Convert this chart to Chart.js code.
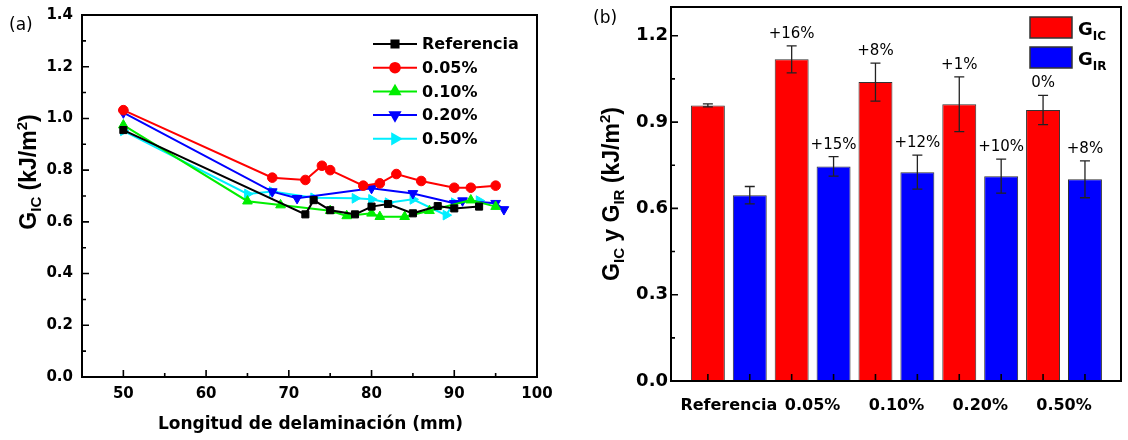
<!DOCTYPE html>
<html><head><meta charset="utf-8">
<script src="https://cdn.jsdelivr.net/npm/chart.js@4.4.0/dist/chart.umd.min.js"></script>
<style>
html,body{margin:0;padding:0;background:#fff;}
#wrap{position:relative;width:1128px;height:440px;overflow:hidden;}
#ca{position:absolute;left:0;top:0;}
#cb{position:absolute;left:560px;top:0;}
</style></head><body>
<div id="wrap"><canvas id="ca" width="560" height="440"></canvas><canvas id="cb" width="568" height="440"></canvas></div>
<script>
// ---------- Panel (a) data ----------
const seriesNames = ['Referencia', '0.05%', '0.10%', '0.20%', '0.50%'];
const refX = [50, 72, 73, 75, 78, 80, 82, 85, 88, 90, 93];
const refY = [0.955, 0.629, 0.684, 0.645, 0.629, 0.659, 0.669, 0.633, 0.661, 0.652, 0.659];
const p005X = [50, 68, 72, 74, 75, 79, 81, 83, 86, 90, 92, 95];
const p005Y = [1.032, 0.771, 0.762, 0.817, 0.800, 0.740, 0.749, 0.785, 0.758, 0.732, 0.732, 0.740];
const p010X = [50, 65, 69, 75, 77, 80, 81, 84, 87, 92, 95];
const p010Y = [0.974, 0.680, 0.665, 0.643, 0.623, 0.633, 0.620, 0.620, 0.643, 0.684, 0.659];
const p020X = [50, 68, 71, 80, 85, 90, 91, 95, 96];
const p020Y = [1.022, 0.717, 0.691, 0.730, 0.710, 0.672, 0.682, 0.672, 0.648];
const p050X = [50, 65, 68, 73, 78, 80, 82, 85, 89, 90, 93];
const p050Y = [0.952, 0.708, 0.717, 0.693, 0.691, 0.687, 0.674, 0.687, 0.626, 0.674, 0.682];
const xTicksA = [50, 60, 70, 80, 90, 100];
const yTicksA = [0.0, 0.2, 0.4, 0.6, 0.8, 1.0, 1.2, 1.4];

// ---------- Panel (b) data ----------
const groups = ['Referencia', '0.05%', '0.10%', '0.20%', '0.50%'];
const gic = [0.958, 1.118, 1.039, 0.962, 0.942];
const gicErr = [0.005, 0.047, 0.066, 0.095, 0.051];
const gicPct = ['', '+16%', '+8%', '+1%', '0%'];
const gir = [0.646, 0.746, 0.726, 0.712, 0.701];
const girErr = [0.030, 0.034, 0.059, 0.059, 0.064];
const girPct = ['', '+15%', '+12%', '+10%', '+8%'];
const yTicksB = [0.0, 0.3, 0.6, 0.9, 1.2];

Chart.defaults.font.family = "'DejaVu Sans', sans-serif";
Chart.defaults.color = '#000';

const styleA = [
  {color: '#000000', ps: 'rect', rot: 0, r: 5},
  {color: '#ff0000', ps: 'circle', rot: 0, r: 4.8},
  {color: '#00ee00', ps: 'triangle', rot: 0, r: 5.6},
  {color: '#0000ff', ps: 'triangle', rot: 180, r: 5.6},
  {color: '#00eeff', ps: 'triangle', rot: 90, r: 5.6}
];
const xsA = [refX, p005X, p010X, p020X, p050X];
const ysA = [refY, p005Y, p010Y, p020Y, p050Y];

function richText(ctx, parts, x, y, rotate, align) {
  ctx.save();
  ctx.translate(x, y);
  if (rotate) ctx.rotate(-Math.PI / 2);
  let total = 0;
  parts.forEach(p => { ctx.font = p.f; p.w = ctx.measureText(p.t).width; total += p.w; });
  let cx = align === 'center' ? -total / 2 : 0;
  ctx.textBaseline = 'alphabetic'; ctx.textAlign = 'left'; ctx.fillStyle = '#000';
  parts.forEach(p => { ctx.font = p.f; ctx.fillText(p.t, cx, p.dy || 0); cx += p.w; });
  ctx.restore();
}
function mids(arr) { const m = []; for (let i = 0; i < arr.length - 1; i++) m.push((arr[i] + arr[i + 1]) / 2); return m; }
function noPad(s) { s.paddingTop = 0; s.paddingBottom = 0; s.paddingLeft = 0; s.paddingRight = 0; }

const TITLE_F = "bold 23px 'Liberation Sans', Arial, sans-serif";
const TITLE_SUB = "bold 15px 'Liberation Sans', Arial, sans-serif";

const decorA = {
  id: 'decorA',
  afterDraw(chart) {
    const {ctx, chartArea: a, scales: {x, y}} = chart;
    ctx.save();
    ctx.strokeStyle = '#000'; ctx.lineWidth = 2;
    ctx.strokeRect(a.left, a.top, a.right - a.left, a.bottom - a.top);
    ctx.lineWidth = 1.6;
    ctx.beginPath();
    xTicksA.forEach(v => { const px = x.getPixelForValue(v); ctx.moveTo(px, a.bottom); ctx.lineTo(px, a.bottom - 7); });
    mids(xTicksA).forEach(v => { const px = x.getPixelForValue(v); ctx.moveTo(px, a.bottom); ctx.lineTo(px, a.bottom - 4); });
    yTicksA.forEach(v => { const py = y.getPixelForValue(v); ctx.moveTo(a.left, py); ctx.lineTo(a.left + 7, py); });
    mids(yTicksA).forEach(v => { const py = y.getPixelForValue(v); ctx.moveTo(a.left, py); ctx.lineTo(a.left + 4, py); });
    ctx.stroke();
    // legend
    const lx0 = 373, lx1 = 417, ly0 = 44, dy = 23.7;
    seriesNames.forEach((n, i) => {
      const s = styleA[i], yy = ly0 + i * dy;
      ctx.strokeStyle = s.color; ctx.lineWidth = 2;
      ctx.beginPath(); ctx.moveTo(lx0, yy); ctx.lineTo(lx1, yy); ctx.stroke();
      ctx.fillStyle = s.color; ctx.strokeStyle = s.color;
      Chart.helpers.drawPoint(ctx, {pointStyle: s.ps, rotation: s.rot, radius: s.r, borderWidth: 1}, (lx0 + lx1) / 2, yy);
      ctx.fillStyle = '#000';
      ctx.font = "bold 16px 'DejaVu Sans'"; ctx.textAlign = 'left'; ctx.textBaseline = 'middle';
      ctx.fillText(n, 422, yy + 1);
    });
    // panel label
    ctx.fillStyle = '#000'; ctx.font = "17px 'DejaVu Sans'"; ctx.textBaseline = 'middle'; ctx.textAlign = 'left';
    ctx.fillText('(a)', 9, 26);
    // axis titles
    ctx.font = "bold 17px 'DejaVu Sans'"; ctx.textAlign = 'center'; ctx.textBaseline = 'middle';
    ctx.fillText('Longitud de delaminación (mm)', (a.left + a.right) / 2 + 1, 425);
    ctx.restore();
    richText(ctx, [
      {t: 'G', f: TITLE_F}, {t: 'IC', f: TITLE_SUB, dy: 5}, {t: ' (kJ/m', f: TITLE_F}, {t: '2', f: TITLE_SUB, dy: -9}, {t: ')', f: TITLE_F}
    ], 36, 172, true, 'center');
  }
};

new Chart(document.getElementById('ca'), {
  type: 'line',
  data: {
    datasets: seriesNames.map((n, i) => ({
      label: n,
      data: xsA[i].map((xv, j) => ({x: xv, y: ysA[i][j]})),
      borderColor: styleA[i].color, backgroundColor: styleA[i].color,
      pointBorderColor: styleA[i].color, pointBackgroundColor: styleA[i].color,
      borderWidth: 2, pointStyle: styleA[i].ps, pointRotation: styleA[i].rot,
      pointRadius: styleA[i].r, pointBorderWidth: 1, tension: 0, fill: false
    }))
  },
  options: {
    responsive: false, animation: false, devicePixelRatio: 1,
    layout: {padding: {left: 0, top: 15, right: 23, bottom: 0}},
    plugins: {legend: {display: false}, tooltip: {enabled: false}},
    scales: {
      x: {
        type: 'linear', min: 45, max: 100,
        afterBuildTicks: s => { s.ticks = xTicksA.map(v => ({value: v})); },
        afterFit: s => { s.height = 63; noPad(s); },
        grid: {display: false, drawTicks: false}, border: {display: false},
        ticks: {font: {size: 15, weight: 'bold'}, padding: 8, maxRotation: 0, autoSkip: false, callback: v => String(v)}
      },
      y: {
        type: 'linear', min: 0, max: 1.4,
        afterBuildTicks: s => { s.ticks = yTicksA.map(v => ({value: v})); },
        afterFit: s => { s.width = 82; noPad(s); },
        grid: {display: false, drawTicks: false}, border: {display: false},
        ticks: {font: {size: 15, weight: 'bold'}, padding: 9, autoSkip: false, callback: v => Number(v).toFixed(1)}
      }
    }
  },
  plugins: [decorA]
});

// ---------- Panel (b) ----------
const errs = [gicErr, girErr];
const vals = [gic, gir];
const pcts = [gicPct, girPct];
const decorB = {
  id: 'decorB',
  afterDatasetsDraw(chart) {
    const {ctx, scales: {y}} = chart;
    ctx.save();
    ctx.strokeStyle = '#222'; ctx.lineWidth = 1.3;
    [0, 1].forEach(d => {
      const meta = chart.getDatasetMeta(d);
      meta.data.forEach((el, j) => {
        const yt = y.getPixelForValue(vals[d][j] + errs[d][j]);
        const yb = y.getPixelForValue(vals[d][j] - errs[d][j]);
        ctx.beginPath();
        ctx.moveTo(el.x, yt); ctx.lineTo(el.x, yb);
        ctx.moveTo(el.x - 5, yt); ctx.lineTo(el.x + 5, yt);
        ctx.moveTo(el.x - 5, yb); ctx.lineTo(el.x + 5, yb);
        ctx.stroke();
        if (pcts[d][j]) {
          ctx.fillStyle = '#000'; ctx.font = "15px 'DejaVu Sans'"; ctx.textAlign = 'center'; ctx.textBaseline = 'alphabetic';
          ctx.fillText(pcts[d][j], el.x, yt - 8);
        }
      });
    });
    ctx.restore();
  },
  afterDraw(chart) {
    const {ctx, chartArea: a, scales: {y}} = chart;
    ctx.save();
    ctx.strokeStyle = '#000'; ctx.lineWidth = 2;
    ctx.strokeRect(a.left, a.top, a.right - a.left, a.bottom - a.top);
    ctx.lineWidth = 1.6;
    ctx.beginPath();
    yTicksB.forEach(v => { const py = y.getPixelForValue(v); ctx.moveTo(a.left, py); ctx.lineTo(a.left + 7, py); });
    mids(yTicksB).forEach(v => { const py = y.getPixelForValue(v); ctx.moveTo(a.left, py); ctx.lineTo(a.left + 4, py); });
    [0, 1].forEach(d => chart.getDatasetMeta(d).data.forEach(el => { ctx.moveTo(el.x, a.bottom); ctx.lineTo(el.x, a.bottom - 7); }));
    ctx.stroke();
    // legend
    const boxes = [['#ff0000', 'IC'], ['#0000ff', 'IR']];
    boxes.forEach((b, i) => {
      const by = 17 + i * 30;
      ctx.fillStyle = b[0]; ctx.fillRect(470, by, 42, 21);
      ctx.strokeStyle = '#333'; ctx.lineWidth = 1.5; ctx.strokeRect(470, by, 42, 21);
    });
    ctx.restore();
    richText(ctx, [{t: 'G', f: "bold 18px 'DejaVu Sans'"}, {t: 'IC', f: "bold 12px 'DejaVu Sans'", dy: 5}], 518, 35, false, 'left');
    richText(ctx, [{t: 'G', f: "bold 18px 'DejaVu Sans'"}, {t: 'IR', f: "bold 12px 'DejaVu Sans'", dy: 5}], 518, 65, false, 'left');
    ctx.save();
    ctx.fillStyle = '#000'; ctx.font = "17px 'DejaVu Sans'"; ctx.textBaseline = 'middle'; ctx.textAlign = 'left';
    ctx.fillText('(b)', 33, 19);
    ctx.restore();
    richText(ctx, [
      {t: 'G', f: TITLE_F}, {t: 'IC', f: TITLE_SUB, dy: 5}, {t: ' y G', f: TITLE_F}, {t: 'IR', f: TITLE_SUB, dy: 5},
      {t: ' (kJ/m', f: TITLE_F}, {t: '2', f: TITLE_SUB, dy: -9}, {t: ')', f: TITLE_F}
    ], 59, 194, true, 'center');
  }
};

new Chart(document.getElementById('cb'), {
  type: 'bar',
  data: {
    datasets: [
      {label: 'GIC', data: gic.map((v, i) => ({x: i, y: v})), backgroundColor: '#ff0000', borderColor: '#333', borderWidth: 1, borderSkipped: 'start'},
      {label: 'GIR', data: gir.map((v, i) => ({x: i, y: v})), backgroundColor: '#0000ff', borderColor: '#333', borderWidth: 1, borderSkipped: 'start'}
    ]
  },
  options: {
    responsive: false, animation: false, devicePixelRatio: 1,
    layout: {padding: {left: 0, top: 7, right: 7, bottom: 0}},
    datasets: {bar: {categoryPercentage: 1, barPercentage: 0.81}},
    plugins: {legend: {display: false}, tooltip: {enabled: false}},
    scales: {
      x: {
        type: 'linear', offset: false, min: -0.69, max: 4.68,
        afterBuildTicks: s => { s.ticks = groups.map((g, i) => ({value: i})); },
        afterFit: s => { s.height = 59; noPad(s); },
        grid: {display: false, drawTicks: false}, border: {display: false},
        ticks: {font: {size: 16, weight: 'bold'}, padding: 15, maxRotation: 0, autoSkip: false, callback: v => groups[Math.round(v)]}
      },
      y: {
        type: 'linear', min: 0, max: 1.3,
        afterBuildTicks: s => { s.ticks = yTicksB.map(v => ({value: v})); },
        afterFit: s => { s.width = 111; noPad(s); },
        grid: {display: false, drawTicks: false}, border: {display: false},
        ticks: {font: {size: 18, weight: 'bold'}, padding: 3, autoSkip: false, callback: v => Number(v).toFixed(1)}
      }
    }
  },
  plugins: [decorB]
});
</script>
</body></html>
